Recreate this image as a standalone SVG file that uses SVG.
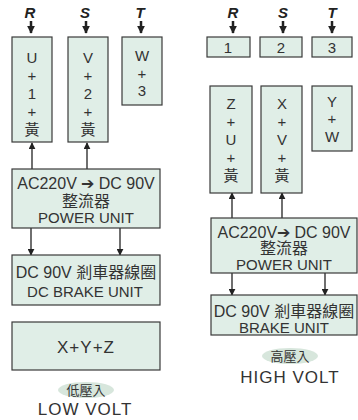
<svg xmlns="http://www.w3.org/2000/svg" width="358" height="420" viewBox="0 0 358 420">
<defs>
<marker id="ah" viewBox="0 0 10 10" refX="9" refY="5" markerWidth="7" markerHeight="7" markerUnits="userSpaceOnUse" orient="auto">
<path d="M0,0 L10,5 L0,10 z" fill="#222"/>
</marker>
<marker id="ahb" viewBox="0 0 10 10" refX="9" refY="5" markerWidth="8" markerHeight="8" markerUnits="userSpaceOnUse" orient="auto">
<path d="M0,0 L10,5 L0,10 z" fill="#222"/>
</marker>
</defs>
<style>
.box{fill:#e0eee7;stroke:#3a3a3a;stroke-width:1.2}
.t{font-family:"Liberation Sans","Noto Sans CJK TC",sans-serif;fill:#333;text-anchor:middle;dominant-baseline:central}
.s{font-size:15px}
.m{font-size:15px}
.k{font-size:16px}
.big{font-size:17px;letter-spacing:1px}
.ph{font-family:"Liberation Sans",sans-serif;font-size:15px;font-weight:bold;font-style:italic;fill:#222;text-anchor:middle;dominant-baseline:central}
.c{stroke:#222;stroke-width:1.3;fill:none;marker-end:url(#ah)}
.p{stroke:#222;stroke-width:2.5;fill:none;marker-end:url(#ahb)}
.oval{fill:#d7e6dc}
</style>
<rect width="358" height="420" fill="#fff"/>

<g id="connectors">
<line class="p" x1="31" y1="21" x2="31" y2="33"/>
<line class="p" x1="86" y1="21" x2="86" y2="33"/>
<line class="p" x1="141" y1="21" x2="141" y2="33"/>
<line class="c" x1="32" y1="169" x2="32" y2="143"/>
<line class="c" x1="87" y1="169" x2="87" y2="143"/>
<line class="c" x1="31" y1="228" x2="31" y2="255"/>
<line class="c" x1="120" y1="228" x2="120" y2="255"/>
<line class="p" x1="233" y1="21" x2="233" y2="33"/>
<line class="p" x1="283" y1="21" x2="283" y2="33"/>
<line class="p" x1="332" y1="21" x2="332" y2="33"/>
<line class="c" x1="232" y1="218" x2="232" y2="193"/>
<line class="c" x1="282" y1="218" x2="282" y2="193"/>
<line class="c" x1="232" y1="273" x2="232" y2="295"/>
<line class="c" x1="325" y1="273" x2="325" y2="295"/>
</g>

<g id="phase-labels">
<text class="ph" x="30" y="12">R</text>
<text class="ph" x="85" y="12">S</text>
<text class="ph" x="140" y="12">T</text>
<text class="ph" x="233" y="12">R</text>
<text class="ph" x="283" y="12">S</text>
<text class="ph" x="332" y="12">T</text>
</g>

<g id="low-u">
<rect class="box" x="12" y="37" width="40" height="105"/>
<text class="t s" x="32" y="57">U</text>
<text class="t s" x="32" y="75">+</text>
<text class="t s" x="32" y="93">1</text>
<text class="t s" x="32" y="111">+</text>
<text class="t s" x="32" y="129">黃</text>
</g>
<g id="low-v">
<rect class="box" x="68" y="37" width="40" height="105"/>
<text class="t s" x="88" y="57">V</text>
<text class="t s" x="88" y="75">+</text>
<text class="t s" x="88" y="93">2</text>
<text class="t s" x="88" y="111">+</text>
<text class="t s" x="88" y="129">黃</text>
</g>
<g id="low-w">
<rect class="box" x="122" y="37" width="40" height="68"/>
<text class="t s" x="142" y="55">W</text>
<text class="t s" x="142" y="73">+</text>
<text class="t s" x="142" y="90">3</text>
</g>
<g id="low-power">
<rect class="box" x="12" y="169" width="148" height="59"/>
<text class="t k" x="86" y="183">AC220V ➔ DC 90V</text>
<text class="t k" x="86" y="201">整流器</text>
<text class="t m" x="86" y="217">POWER UNIT</text>
</g>
<g id="low-brake">
<rect class="box" x="12" y="255" width="148" height="50"/>
<text class="t k" x="86" y="272">DC 90V 剎車器線圈</text>
<text class="t m" x="85" y="291">DC BRAKE UNIT</text>
</g>
<g id="low-xyz">
<rect class="box" x="12" y="322" width="148" height="48"/>
<text class="t big" x="86" y="347">X+Y+Z</text>
</g>
<g id="low-label">
<ellipse class="oval" cx="86" cy="390" rx="28" ry="8"/>
<text class="t" x="86" y="390" font-size="13">低壓入</text>
<text class="t" x="85" y="409" font-size="17" letter-spacing="1">LOW  VOLT</text>
</g>

<g id="high-1">
<rect class="box" x="207" y="37" width="43" height="20"/>
<text class="t s" x="228" y="47">1</text>
</g>
<g id="high-2">
<rect class="box" x="260" y="37" width="42" height="20"/>
<text class="t s" x="281" y="47">2</text>
</g>
<g id="high-3">
<rect class="box" x="312" y="37" width="40" height="20"/>
<text class="t s" x="332" y="47">3</text>
</g>
<g id="high-zu">
<rect class="box" x="210" y="86" width="42" height="107"/>
<text class="t s" x="231" y="103">Z</text>
<text class="t s" x="231" y="121">+</text>
<text class="t s" x="231" y="139">U</text>
<text class="t s" x="231" y="157">+</text>
<text class="t s" x="231" y="175">黃</text>
</g>
<g id="high-xv">
<rect class="box" x="261" y="86" width="41" height="107"/>
<text class="t s" x="282" y="103">X</text>
<text class="t s" x="282" y="121">+</text>
<text class="t s" x="282" y="139">V</text>
<text class="t s" x="282" y="157">+</text>
<text class="t s" x="282" y="175">黃</text>
</g>
<g id="high-yw">
<rect class="box" x="312" y="86" width="40" height="65"/>
<text class="t s" x="332" y="101">Y</text>
<text class="t s" x="332" y="118">+</text>
<text class="t s" x="332" y="136">W</text>
</g>
<g id="high-power">
<rect class="box" x="211" y="218" width="146" height="55"/>
<text class="t k" x="284" y="232">AC220V➔ DC 90V</text>
<text class="t k" x="284" y="248">整流器</text>
<text class="t m" x="284" y="264">POWER UNIT</text>
</g>
<g id="high-brake">
<rect class="box" x="211" y="295" width="146" height="40"/>
<text class="t k" x="284" y="311">DC 90V 剎車器線圈</text>
<text class="t m" x="284" y="327">BRAKE UNIT</text>
</g>
<g id="high-label">
<ellipse class="oval" cx="290" cy="356" rx="28" ry="8"/>
<text class="t" x="290" y="356" font-size="13">高壓入</text>
<text class="t" x="290" y="377" font-size="17" letter-spacing="1">HIGH  VOLT</text>
</g>
</svg>
